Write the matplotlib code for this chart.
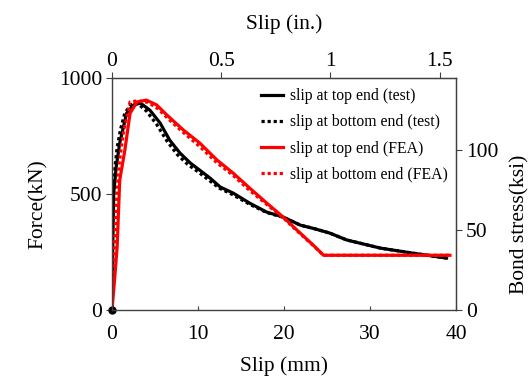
import matplotlib
matplotlib.use("Agg")
import matplotlib.pyplot as plt

plt.rcParams['font.family'] = ['Liberation Serif', 'DejaVu Serif']

# Slip (mm) vs. force (kN)
test_top_slip = [0.0, 0.1, 0.2, 0.5, 0.9, 1.7, 2.5, 3.3, 4.4, 5.6, 6.7, 7.9, 9.1, 10.2,
                 11.4, 12.6, 14.1, 16.0, 18.0, 19.9, 21.9, 23.4, 25.3, 27.3, 31.2, 35.0, 38.9]
test_top_force = [0, 300, 504, 620, 720, 848, 884, 892, 862, 806, 733, 677, 634, 603,
                  569, 530, 504, 461, 422, 401, 366, 352, 332, 302, 267, 245, 224]

test_bot_slip = [0.0, 0.1, 0.35, 0.6, 1.0, 1.5, 2.2, 3.0, 4.0, 5.2, 6.4, 7.6, 8.8, 10.0,
                 11.2, 12.5, 14.0, 16.0, 18.0, 19.9, 21.9, 23.4, 25.3, 27.3, 31.2, 35.0, 38.9]
test_bot_force = [0, 380, 617, 700, 780, 850, 885, 890, 858, 800, 728, 670, 628, 596,
                  562, 525, 498, 456, 420, 400, 366, 352, 332, 302, 267, 245, 224]

fea_top_slip = [0.0, 0.3, 0.6, 0.9, 1.5, 2.1, 2.9, 4.0, 5.2, 6.4, 8.3, 10.2, 12.2,
                14.1, 16.0, 18.0, 19.9, 21.5, 23.4, 24.6, 30.0, 35.0, 39.3]
fea_top_force = [0, 130, 272, 560, 690, 848, 897, 905, 884, 840, 776, 720, 647,
                 590, 526, 461, 401, 345, 280, 236, 236, 236, 236]

fea_bot_slip = [0.0, 0.2, 0.5, 0.8, 1.3, 2.1, 3.0, 4.2, 5.4, 6.6, 8.4, 10.2, 12.2,
                14.1, 16.0, 18.0, 19.9, 21.5, 23.4, 24.6, 30.0, 35.0, 39.3]
fea_bot_force = [0, 200, 450, 620, 760, 897, 902, 895, 866, 822, 762, 705, 635,
                 580, 516, 455, 398, 342, 278, 236, 236, 236, 236]

labels = ["slip at top end (test)", "slip at bottom end (test)",
          "slip at top end (FEA)", "slip at bottom end (FEA)"]

MM_PER_IN = 25.4
KSI_PER_KN = 0.145

FS = 15.5

fig = plt.figure(figsize=(5.30, 3.79), dpi=100)
ax = fig.add_axes([0.2113, 0.182, 0.649, 0.612])

lw = 2.3
dots = (0, (1.0, 0.9))
ax.plot(test_top_slip, test_top_force, color='black', lw=lw, label=labels[0])
ax.plot(test_bot_slip, test_bot_force, color='black', lw=lw, ls=dots, label=labels[1])
ax.plot(fea_top_slip, fea_top_force, color='#ff0000', lw=lw, label=labels[2])
ax.plot(fea_bot_slip, fea_bot_force, color='#ff0000', lw=lw, ls=dots, label=labels[3])
# first recorded test point
ax.plot(test_top_slip[:1], test_top_force[:1], 'o', color='black', ms=5, clip_on=False)

ax.set_xlim(0, 40)
ax.set_ylim(0, 1000)
ax.set_xticks([0, 10, 20, 30, 40])
ax.set_yticks([0, 500, 1000])

spine_col = '#404040'
for s in ax.spines.values():
    s.set_color(spine_col)
    s.set_linewidth(1.0)

ax.tick_params(axis='x', direction='in', length=3, color=spine_col, labelsize=FS, pad=11)
ax.tick_params(axis='y', direction='out', length=4, color=spine_col, labelsize=FS, pad=3)

ax.set_xlabel("Slip (mm)", fontsize=FS, labelpad=8.5)
ax.set_ylabel("Force(kN)", fontsize=FS)
ax.yaxis.set_label_coords(-0.186, 0.457, transform=ax.transAxes)

top = ax.secondary_xaxis('top', functions=(lambda x: x / MM_PER_IN, lambda x: x * MM_PER_IN))
top.set_ticks([0, 0.5, 1, 1.5])
top.set_xticklabels(["0", "0.5", "1", "1.5"])
top.tick_params(direction='out', length=4, color=spine_col, labelsize=FS, pad=1)
top.set_xlabel("Slip (in.)", fontsize=FS)
top.xaxis.set_label_coords(0.5, 1.21, transform=ax.transAxes)
top.spines['top'].set_color(spine_col)

right = ax.secondary_yaxis('right', functions=(lambda f: f * KSI_PER_KN, lambda s: s / KSI_PER_KN))
right.set_ticks([0, 50, 100])
right.tick_params(direction='out', length=4, color=spine_col, labelsize=FS, pad=3)
right.set_ylabel("Bond stress(ksi)", fontsize=FS)
right.yaxis.set_label_coords(1.158, 0.371, transform=ax.transAxes)
right.spines['right'].set_color(spine_col)

leg = ax.legend(loc='upper right', bbox_to_anchor=(1.0, 0.99), frameon=False,
                fontsize=11.3, handlelength=1.4, handletextpad=0.45,
                labelspacing=0.65, borderaxespad=0.1)

fig.savefig("out.png", dpi=100)
